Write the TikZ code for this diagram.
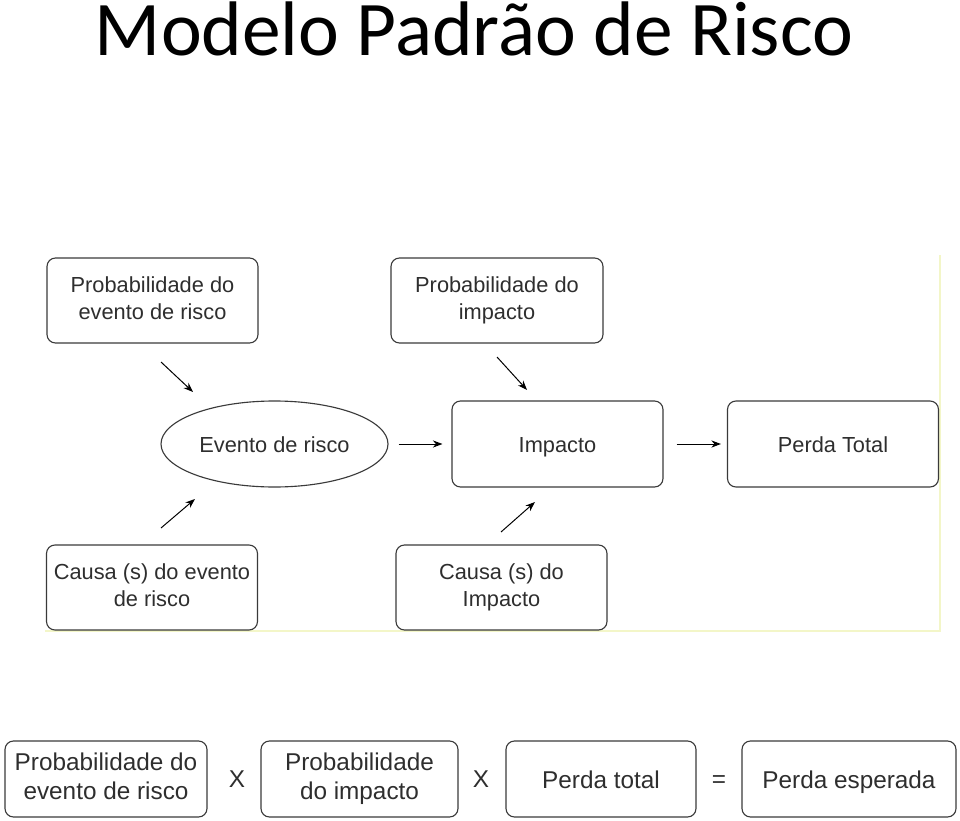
\documentclass[tikz,border=0pt]{standalone}
\usepackage{fontspec}
\setmainfont{Liberation Sans}
\newfontfamily\titlefont{Carlito}
\usetikzlibrary{arrows.meta,shapes.geometric}
\definecolor{rkink}{HTML}{2E2E2E}
\definecolor{rkline}{HTML}{3A3A3A}
\definecolor{rkframe}{HTML}{F3F6C8}
\newcommand\rktop{\rule{0pt}{1.0em}}
\newcommand\rkbot{\rule[-.24em]{0pt}{0pt}}
\tikzset{
  struts/.style={execute at begin node=\rktop,execute at end node=\rkbot},
  box/.style={rectangle,rounded corners=6pt,draw=rkline,line width=.8pt,minimum width=211*0.025cm,minimum height=85*0.025cm,align=center,text=rkink,font=\fontsize{15.5}{19.2}\selectfont,struts},
  oval/.style={ellipse,draw=rkline,line width=.8pt,minimum width=227*0.025cm,minimum height=86*0.025cm,text=rkink,font=\fontsize{15.5}{19.2}\selectfont,struts},
  eqbox/.style={rectangle,rounded corners=6pt,draw=rkline,line width=.8pt,minimum height=76*0.025cm,align=center,text=rkink,font=\fontsize{17.3}{20.6}\selectfont,struts},
  op/.style={text=rkink,font=\fontsize{17.3}{20.6}\selectfont,struts},
  flow/.style={-{Stealth[length=2.4mm,width=1.8mm]},draw=black,line width=.7pt},
  title/.style={font=\titlefont\fontsize{55}{60}\selectfont,text=black},
}
\begin{document}
\begin{tikzpicture}[x=0.025cm,y=-0.025cm]
  \useasboundingbox (0,0) rectangle (960,821);
  \node[title,anchor=base] (ttl) at (474,56) {Modelo Padrão de Risco};
  % faint frame of the pasted figure
  \draw[rkframe,line width=.8pt] (940,255) -- (940,631) -- (45,631);
  \node[box] (pe) at (152.5,300.5) {Probabilidade do\\evento de risco};
  \node[box,minimum width=212*0.025cm] (pi) at (497,300.5) {Probabilidade do\\impacto};
  \node[oval] (ev) at (274.5,444) {Evento de risco};
  \node[box,minimum height=86*0.025cm] (im) at (557.5,444) {Impacto};
  \node[box,minimum height=86*0.025cm] (pt) at (833,444) {Perda Total};
  \node[box] (ce) at (152,587.5) {Causa (s) do evento\\de risco};
  \node[box] (ci) at (501.5,587.5) {Causa (s) do\\Impacto};
  \coordinate (pe1) at (161,362); \coordinate (pe2) at (193,392);
  \coordinate (pi1) at (497,357); \coordinate (pi2) at (527,390);
  \coordinate (ce1) at (161,528); \coordinate (ce2) at (195,499);
  \coordinate (ci1) at (501,532); \coordinate (ci2) at (535,502);
  \draw[flow] (pe1) -- (pe2);
  \draw[flow] (pi1) -- (pi2);
  \draw[flow] (ce1) -- (ce2);
  \draw[flow] (ci1) -- (ci2);
  \draw[flow,shorten <=10*0.025cm,shorten >=9*0.025cm] (ev) -- (im);
  \draw[flow,shorten <=13*0.025cm,shorten >=6*0.025cm] (im) -- (pt);
  % expected loss product
  \node[eqbox,minimum width=202*0.025cm] (q1) at (106,779) {Probabilidade do\\evento de risco};
  \node[op] (x1) at (237,778) {X};
  \node[eqbox,minimum width=197*0.025cm] (q2) at (359.5,779) {Probabilidade\\do impacto};
  \node[op] (x2) at (481,778) {X};
  \node[eqbox,minimum width=190*0.025cm] (q3) at (601,779) {Perda total};
  \node[op] (eq) at (719,778) {=};
  \node[eqbox,minimum width=214*0.025cm] (q4) at (849,779) {Perda esperada};
\end{tikzpicture}
\end{document}
